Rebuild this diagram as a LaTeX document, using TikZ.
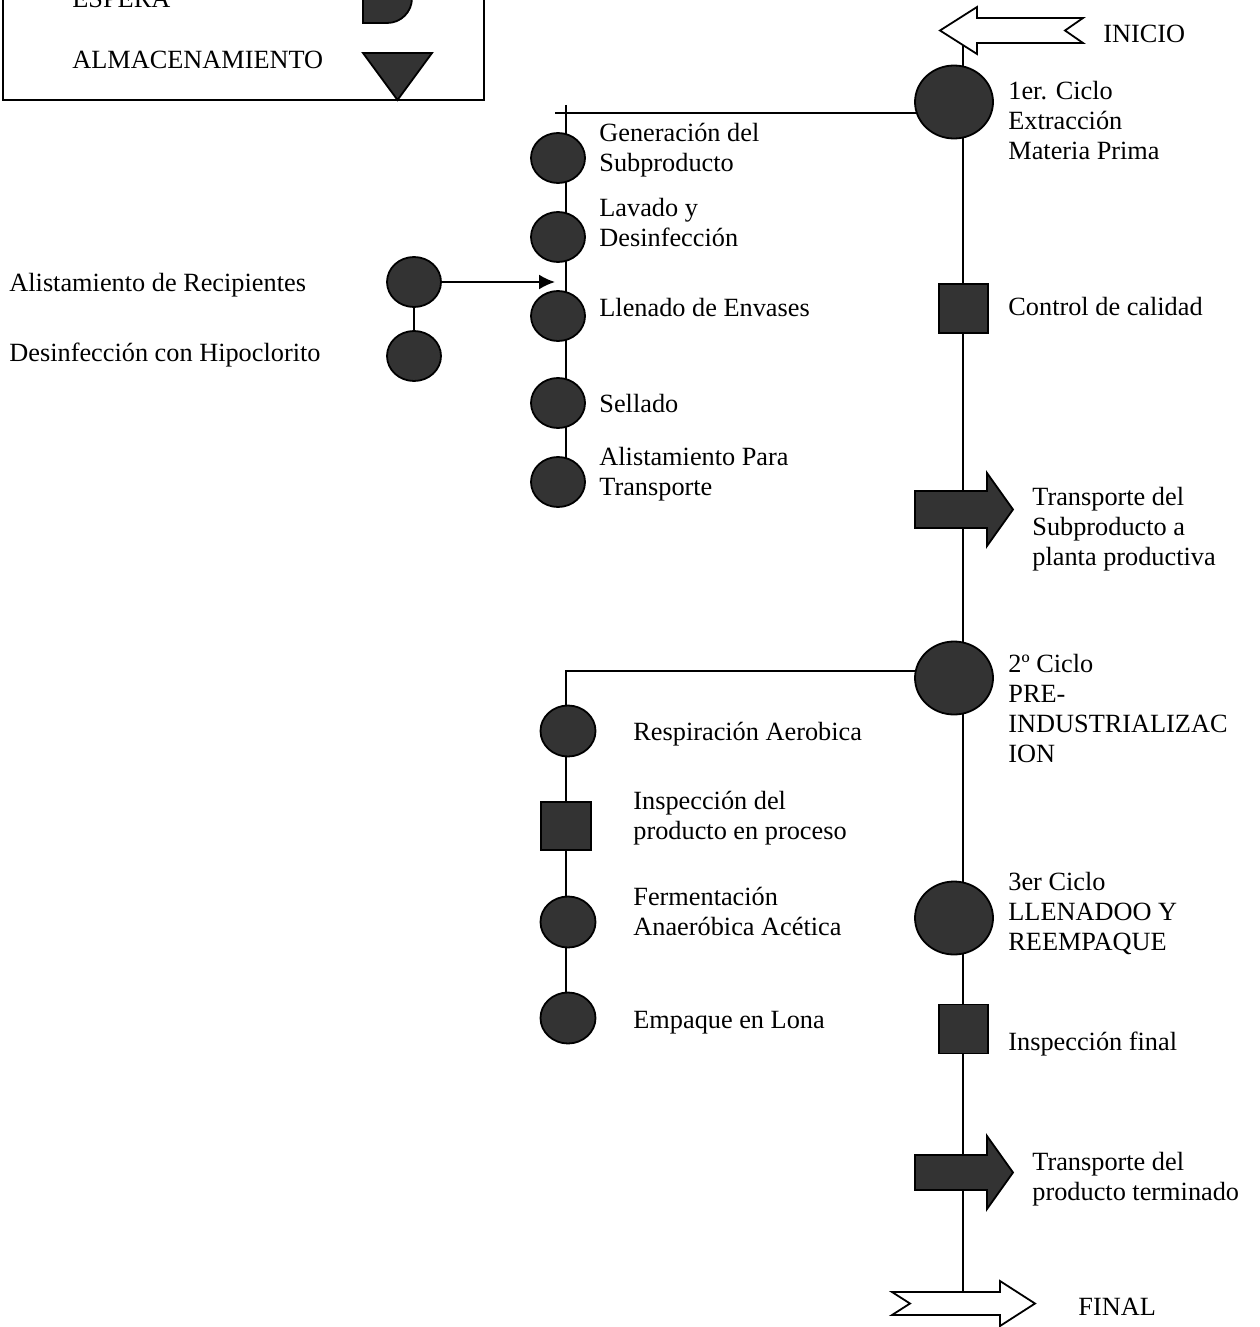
\documentclass[tikz,border=0pt]{standalone}
\usepackage{fontspec}
\setmainfont{Liberation Serif}
\usetikzlibrary{shapes.geometric,arrows.meta,backgrounds}
\definecolor{dk}{RGB}{51,51,51}
\newcommand\lblfont{\fontsize{13.15}{15}\selectfont}
\begin{document}
\begin{tikzpicture}[x=0.5pt,y=-0.5pt,
  lbl/.style={anchor=north west, inner sep=0pt, align=left, font=\lblfont, execute at begin node=\strut},
  big/.style={ellipse, draw=black, fill=dk, line width=0.9pt, minimum width=39pt, minimum height=36.5pt, inner sep=0pt},
  sm/.style={ellipse, draw=black, fill=dk, line width=0.9pt, minimum width=27pt, minimum height=25pt, inner sep=0pt},
  sq/.style={rectangle, draw=black, fill=dk, line width=0.9pt, minimum width=24.5pt, minimum height=24.5pt, inner sep=0pt},
  conn/.style={line width=1pt},
  blk/.style={draw=black, fill=dk, line width=0.9pt, line join=miter},
  wht/.style={draw=black, fill=white, line width=0.9pt, line join=miter}]
\useasboundingbox (0,0) rectangle (1259,1327);

% legend
\draw[line width=1pt] (3,-300) rectangle (484,100);
\node[lbl] (tesp) at (72,-14) {ESPERA};
\node[lbl] (talm) at (72,47) {ALMACENAMIENTO};
\filldraw[blk] (363,-27) -- (387,-27) .. controls (401,-27) and (412,-16) .. (412,-2)
  .. controls (412,12) and (401,23) .. (387,23) -- (363,23) -- cycle;
\filldraw[blk] (363,53) -- (432,53) -- (397.5,100) -- cycle;

% main column
\coordinate (mtop) at (963,44);
\coordinate (mbot) at (963,1292);
\node[big] (c1) at (954,102) {};
\node[sq] (q1) at (963.5,308.5) {};
\node[big] (c2) at (954,678) {};
\node[big] (c3) at (954,918) {};
\node[sq] (q2) at (963.5,1029) {};

% first branch
\coordinate (b1l) at (555,113);
\coordinate (b1t) at (566,105);
\node[sm] (a1) at (558,158) {};
\node[sm] (a2) at (558,237) {};
\node[sm] (a3) at (558,316) {};
\node[sm] (a4) at (558,403) {};
\node[sm] (a5) at (558,482) {};
\node[sm] (r1) at (414,282) {};
\node[sm] (r2) at (414,356) {};
\coordinate (arrend) at (555,282);

% second branch
\coordinate (b2c) at (566,671);
\node[sm, minimum width=27.5pt, minimum height=25.5pt] (e1) at (568,731) {};
\node[sq, minimum width=25pt, minimum height=24pt] (e2) at (566,826) {};
\node[sm, minimum width=27.5pt, minimum height=25.5pt] (e3) at (568,922) {};
\node[sm, minimum width=27.5pt, minimum height=25.5pt] (e4) at (568,1018) {};

\begin{scope}[on background layer]
  \draw[conn] (mtop) -- (mbot);
  \draw[conn] (b1l) -- (c1.center |- b1l);
  \draw[conn] (b1t) -- (b1t |- a5.center);
  \draw[conn] (r1) -- (r2);
  \draw[conn] (c2.center |- b2c) -- (b2c) -- (b2c |- e4.center);
\end{scope}
\draw[conn,-{Latex[length=8pt,width=7.5pt]}] (r1.east) -- (arrend);

% block arrows
\filldraw[wht] (940,30.5) -- (977,7) -- (977,18) -- (1083,18) -- (1065,30.5) -- (1083,43) -- (977,43) -- (977,54) -- cycle;
\filldraw[blk] (915,491) -- (987,491) -- (987,473) -- (1013,509.5) -- (987,546) -- (987,528) -- (915,528) -- cycle;
\filldraw[blk] (915,1155) -- (987,1155) -- (987,1136) -- (1013,1172.5) -- (987,1209) -- (987,1190) -- (915,1190) -- cycle;
\filldraw[wht] (892,1292) -- (1000,1292) -- (1000,1281) -- (1035,1303.5) -- (1000,1326) -- (1000,1315) -- (892,1315) -- (910,1303.5) -- cycle;

% labels
\node[lbl] (tini) at (1103,21) {INICIO};
\node[lbl] (t1) at (1008,81) {1er. Ciclo\\Extracción\\Materia Prima};
\node[lbl] (ta1) at (599,123) {Generación del\\Subproducto};
\node[lbl] (ta2) at (599,198) {Lavado y\\Desinfección};
\node[lbl] (ta3) at (599,295) {Llenado de Envases};
\node[lbl] (ta4) at (599,391) {Sellado};
\node[lbl] (ta5) at (599,447) {Alistamiento Para\\Transporte};
\node[lbl] (tr1) at (9,270) {Alistamiento de Recipientes};
\node[lbl] (tr2) at (9,340) {Desinfección con Hipoclorito};
\node[lbl] (tq1) at (1008,294) {Control de calidad};
\node[lbl] (tt1) at (1032,487) {Transporte del\\Subproducto a\\planta productiva};
\node[lbl] (t2) at (1008,654) {2º Ciclo\\PRE-\\INDUSTRIALIZAC\\ION};
\node[lbl] (te1) at (633,719) {Respiración Aerobica};
\node[lbl] (te2) at (633,791) {Inspección del\\producto en proceso};
\node[lbl] (te3) at (633,887) {Fermentación\\Anaeróbica Acética};
\node[lbl] (t3) at (1008,872) {3er Ciclo\\LLENADOO Y\\REEMPAQUE};
\node[lbl] (te4) at (633,1007) {Empaque en Lona};
\node[lbl] (tq2) at (1008,1029) {Inspección final};
\node[lbl] (tt2) at (1032,1152) {Transporte del\\producto terminado};
\node[lbl] (tfin) at (1078,1294) {FINAL};
\end{tikzpicture}
\end{document}
